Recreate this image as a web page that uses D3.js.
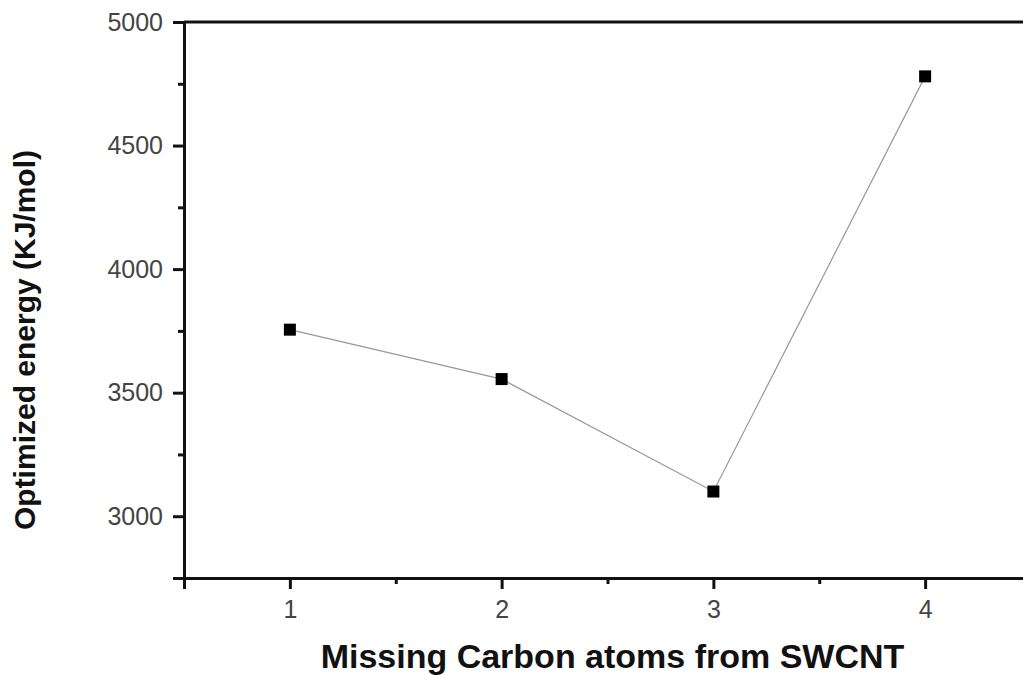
<!DOCTYPE html>
<html>
<head>
<meta charset="utf-8">
<script src="https://d3js.org/d3.v7.min.js"></script>
<style>
  body { margin: 0; background: #fff; }
  svg { display: block; font-family: "Liberation Sans", Arial, sans-serif; }
</style>
</head>
<body>
<div id="graph"></div>
<script>
// data
var missingAtoms = [1, 2, 3, 4];
var energy = [3755, 3555, 3100, 4780];
var xTicks = [1, 2, 3, 4];
var yTicks = [3000, 3500, 4000, 4500, 5000];

var margin = {top: 22, right: -8, bottom: 97, left: 184},
    width = 1023 - margin.left - margin.right,
    height = 675 - margin.top - margin.bottom;

var svg = d3.select("#graph")
  .append("svg")
    .attr("width", 1023)
    .attr("height", 675)
  .append("g")
    .attr("transform", "translate(" + margin.left + "," + margin.top + ")");

var x = d3.scaleLinear().domain([0.5, 4.5]).range([0, width]);
var y = d3.scaleLinear().domain([2750, 5000]).range([height, 0]);

// frame (top + right)
svg.append("line")
  .attr("x1", 0).attr("x2", width).attr("y1", 0).attr("y2", 0)
  .attr("stroke", "#111").attr("stroke-width", 3);
svg.append("line")
  .attr("x1", width).attr("x2", width).attr("y1", 0).attr("y2", height)
  .attr("stroke", "#111").attr("stroke-width", 3);

// X axis, major + minor
var xAxis = svg.append("g")
  .attr("transform", "translate(0," + height + ")")
  .call(d3.axisBottom(x).tickValues(xTicks).tickSize(11).tickPadding(11).tickFormat(d3.format("d")));
svg.append("g")
  .attr("transform", "translate(0," + height + ")")
  .call(d3.axisBottom(x).tickValues([0.5, 1.5, 2.5, 3.5]).tickSize(6).tickFormat(""))
  .select(".domain").remove();

// Y axis, major + minor
var yAxis = svg.append("g")
  .call(d3.axisLeft(y).tickValues(yTicks).tickSize(11).tickPadding(10).tickFormat(d3.format("d")));
svg.append("g")
  .call(d3.axisLeft(y).tickValues([2750, 3250, 3750, 4250, 4750]).tickSize(6).tickFormat(""))
  .select(".domain").remove();

svg.selectAll(".domain").attr("stroke", "#111").attr("stroke-width", 3);
svg.selectAll(".tick line").attr("stroke", "#111").attr("stroke-width", 3);
xAxis.attr("font-size", 25).attr("font-family", null);
yAxis.attr("font-size", 25).attr("font-family", null);
xAxis.selectAll("text").attr("fill", "#444");
yAxis.selectAll("text").attr("fill", "#444");

var pts = missingAtoms.map(function(d, i) { return {x: d, y: energy[i]}; });

svg.append("path")
  .datum(pts)
  .attr("fill", "none")
  .attr("stroke", "#999")
  .attr("stroke-width", 1.2)
  .attr("d", d3.line().x(function(d) { return x(d.x); }).y(function(d) { return y(d.y); }));

svg.append("g")
  .selectAll("rect")
  .data(pts)
  .enter()
  .append("rect")
    .attr("x", function(d) { return x(d.x) - 6; })
    .attr("y", function(d) { return y(d.y) - 6; })
    .attr("width", 12)
    .attr("height", 12)
    .attr("fill", "#000");

// axis titles
svg.append("text")
  .attr("x", x(2.5) + 5)
  .attr("y", height + 90)
  .attr("text-anchor", "middle")
  .attr("font-weight", "bold")
  .attr("font-size", "34px")
  .attr("fill", "#111")
  .text("Missing Carbon atoms from SWCNT");

svg.append("text")
  .attr("transform", "translate(-149,318) rotate(-90)")
  .attr("text-anchor", "middle")
  .attr("font-weight", "bold")
  .attr("font-size", "30px")
  .attr("fill", "#111")
  .text("Optimized energy (KJ/mol)");
</script>
</body>
</html>
